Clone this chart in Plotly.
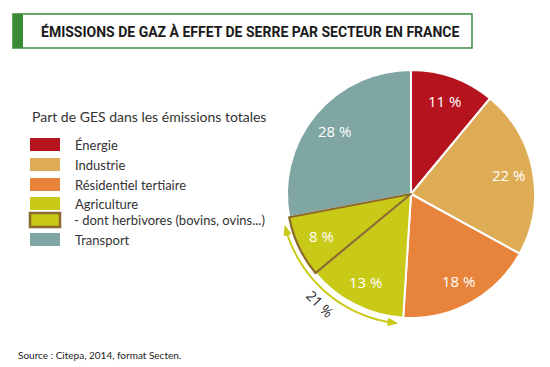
import math
import plotly.graph_objects as go

W, H = 550, 367

# ---- data ----
sectors = ["Énergie", "Industrie", "Résidentiel tertiaire", "Agriculture",
           "- dont herbivores (bovins, ovins...)", "Transport"]
values = [11, 22, 18, 13, 8, 28]
colors = ["#b5141e", "#dfac56", "#e8833b", "#c9c918", "#c9c918", "#7fa6a2"]
outline = ["#ffffff", "#ffffff", "#ffffff", "#ffffff", "#8c6a2b", "#ffffff"]
outline_w = [2, 2, 2, 2, 2.2, 2]
agri_group = [3, 4]          # indices summed in the "21 %" arc
title = "ÉMISSIONS DE GAZ À EFFET DE SERRE PAR SECTEUR EN FRANCE"
legend_title = "Part de GES dans les émissions totales"
source = "Source : Citepa, 2014, format Secten."

# ---- geometry ----
cx, cy, R = 411, 194, 124
def px(x): return x / W
def py(y): return 1 - y / H

total = sum(values)
cum = [sum(values[:i]) for i in range(len(values))]
# draw herbivores last so its outline is on top: start with Transport
order = [5, 0, 1, 2, 3, 4]
rot = 360 * cum[5] / total

fig = go.Figure(go.Pie(
    labels=[sectors[i] for i in order],
    values=[values[i] for i in order],
    marker=dict(colors=[colors[i] for i in order],
                line=dict(color=[outline[i] for i in order],
                          width=[outline_w[i] for i in order])),
    sort=False, direction="clockwise", rotation=rot,
    textinfo="none",
    hoverinfo="skip", showlegend=False,
    domain=dict(x=[px(cx - R), px(cx + R)], y=[py(cy + R), py(cy - R)]),
))

shapes = []
annotations = []

# slice value labels at mid-angle, 0.8 R
for i, v in enumerate(values):
    mid = 360 * (cum[i] + v / 2) / total
    t = math.radians(mid)
    lx, ly = cx + 0.8 * R * math.sin(t), cy - 0.8 * R * math.cos(t)
    annotations.append(dict(text=f"{v} %", xref="paper", yref="paper",
                            x=px(lx), y=py(ly), xanchor="center", yanchor="middle",
                            showarrow=False,
                            font=dict(size=15, color="white",
                                      family="Open Sans, Noto Sans, sans-serif")))

# title box
shapes.append(dict(type="rect", xref="paper", yref="paper",
                   x0=px(13), x1=px(472), y0=py(48), y1=py(14),
                   line=dict(color="#3a8a35", width=1.5), fillcolor="white"))
shapes.append(dict(type="rect", xref="paper", yref="paper",
                   x0=px(13), x1=px(23), y0=py(48), y1=py(14),
                   line=dict(width=0), fillcolor="#3a8a35"))
annotations.append(dict(text="<b>" + title + "</b>", xref="paper", yref="paper",
                        x=px(250), y=py(32), xanchor="center", yanchor="middle",
                        showarrow=False,
                        font=dict(size=14, color="#1a1a1a",
                                  family="Roboto, Liberation Sans Narrow, DejaVu Sans Condensed, sans-serif")))

# legend
lfont = dict(size=13, color="#333333", family="Lato, Noto Sans, sans-serif")
annotations.append(dict(text=legend_title, xref="paper", yref="paper",
                        x=px(30), y=py(117), xanchor="left", yanchor="middle",
                        showarrow=False,
                        font=dict(size=14, color="#333333", family="Lato, Noto Sans, sans-serif")))
rows = [(138, 151), (158, 171), (178, 191), (197, 210), (213, 227), (233, 246)]
for i, (y0, y1) in enumerate(rows):
    lw = 2.5 if outline[i] != "#ffffff" else 0
    shapes.append(dict(type="rect", xref="paper", yref="paper",
                       x0=px(30), x1=px(60), y0=py(y1), y1=py(y0),
                       fillcolor=colors[i],
                       line=dict(color=outline[i] if lw else colors[i], width=lw)))
    annotations.append(dict(text=sectors[i], xref="paper", yref="paper",
                            x=px(73 if i != 4 else 72), y=py((y0 + y1) / 2),
                            xanchor="left", yanchor="middle", showarrow=False, font=lfont))

# arc with arrows around agriculture group
ra = 130
a_start = 360 * cum[agri_group[0]] / total + 2.5
a_end = 360 * (cum[agri_group[-1]] + values[agri_group[-1]]) / total - 3.5
def pt(a, r=ra):
    t = math.radians(a)
    return cx + r * math.sin(t), cy - r * math.cos(t)
head = 9
dstep = math.degrees(head / ra)
n = 40
pts = [pt(a_start + dstep + (a_end - a_start - 2 * dstep) * k / n) for k in range(n + 1)]
path = "M " + " L ".join(f"{px(x):.5f},{py(y):.5f}" for x, y in pts)
arc_col = "#c9c918"
shapes.append(dict(type="path", xref="paper", yref="paper", path=path,
                   line=dict(color=arc_col, width=2)))
for a_tip, sgn in [(a_end, 1), (a_start, -1)]:
    tx, ty = pt(a_tip)
    bx, by = pt(a_tip - sgn * dstep)
    dx, dy = tx - bx, ty - by
    L = math.hypot(dx, dy)
    nx, ny = -dy / L, dx / L
    hw = 3.5
    p1 = (bx + nx * hw, by + ny * hw)
    p2 = (bx - nx * hw, by - ny * hw)
    shapes.append(dict(type="path", xref="paper", yref="paper",
                       path=f"M {px(tx):.5f},{py(ty):.5f} L {px(p1[0]):.5f},{py(p1[1]):.5f} "
                            f"L {px(p2[0]):.5f},{py(p2[1]):.5f} Z",
                       fillcolor=arc_col, line=dict(color=arc_col, width=1)))
grp = sum(values[i] for i in agri_group)
annotations.append(dict(text=f"{grp} %", xref="paper", yref="paper",
                        x=px(320), y=py(303), xanchor="center", yanchor="middle",
                        showarrow=False, textangle=45,
                        font=dict(size=14, color="#222222", family="Open Sans, Noto Sans, sans-serif")))

# source
annotations.append(dict(text=source, xref="paper", yref="paper",
                        x=px(16), y=py(355), xanchor="left", yanchor="middle",
                        showarrow=False,
                        font=dict(size=10, color="#222222", family="Lato, Noto Sans, sans-serif")))

fig.update_layout(width=W, height=H, margin=dict(l=0, r=0, t=0, b=0),
                  paper_bgcolor="white", plot_bgcolor="white",
                  shapes=shapes, annotations=annotations)
fig.write_html("out.html", config={"displayModeBar": False},
               post_script="document.body.style.margin='0';")
